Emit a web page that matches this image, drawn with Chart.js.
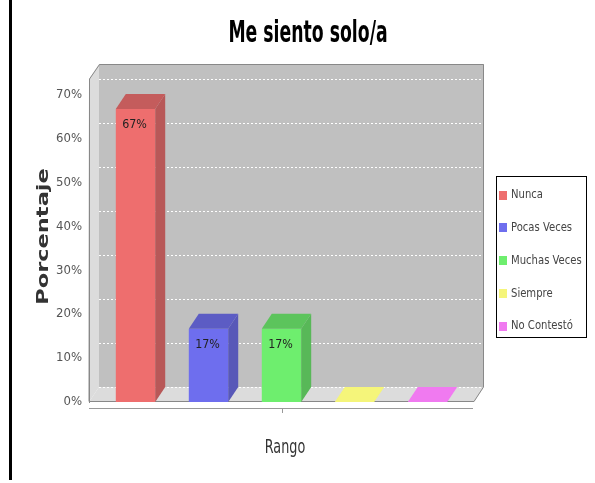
<!DOCTYPE html>
<html><head><meta charset="utf-8">
<script src="https://cdn.jsdelivr.net/npm/chart.js@4.4.1/dist/chart.umd.min.js"></script>
<style>html,body{margin:0;padding:0;background:#fff;}#wrap{width:595px;height:483px;position:relative}</style>
</head><body><div id="wrap"><canvas id="c" width="595" height="483"></canvas></div>
<script>
const chartTitle = 'Me siento solo/a';
const categories = ['Nunca', 'Pocas Veces', 'Muchas Veces', 'Siempre', 'No Contestó'];
const values = [66.67, 16.67, 16.67, 0, 0];
const valueLabels = ['67%', '17%', '17%', '', ''];
const yTickValues = [0, 10, 20, 30, 40, 50, 60, 70];
const xTitle = 'Rango';
const yTitle = 'Porcentaje';

const frontColors = ['#ee6e6e', '#6e6eee', '#6eee6e', '#f5f57a', '#f07af0'];
const sideColors = ['#b85858', '#5858b8', '#58b858', '#c0c05e', '#b85eb8'];
const topColors = ['#c45c5c', '#5c5cc4', '#5cc45c', '#f5f57a', '#f07af0'];
const DX = 10, DY = 15;
const COND = "'DejaVu Sans Condensed','DejaVu Sans',sans-serif";

function poly(ctx, pts, fill, stroke) {
  ctx.beginPath();
  ctx.moveTo(pts[0][0], pts[0][1]);
  for (let i = 1; i < pts.length; i++) ctx.lineTo(pts[i][0], pts[i][1]);
  ctx.closePath();
  if (fill) { ctx.fillStyle = fill; ctx.fill(); }
  if (stroke) { ctx.strokeStyle = stroke; ctx.stroke(); }
}

function squeezedText(ctx, text, x, y, font, sx, color, align, baseline, rot) {
  ctx.save();
  ctx.translate(x, y);
  if (rot) ctx.rotate(rot);
  ctx.scale(sx, 1);
  ctx.font = font;
  ctx.fillStyle = color;
  ctx.textAlign = align;
  ctx.textBaseline = baseline;
  ctx.fillText(text, 0, 0);
  ctx.restore();
}

const threeD = {
  id: 'threeD',
  beforeDraw(chart) {
    const {ctx, chartArea: a, scales: {y}} = chart;
    const L = a.left, R = a.right, T = a.top, B = a.bottom;
    ctx.save();
    ctx.fillStyle = '#c0c0c0';
    ctx.fillRect(L + DX, T - DY, R - L, B - T);
    poly(ctx, [[L, T], [L + DX, T - DY], [L + DX, B - DY], [L, B]], '#dcdcdc');
    poly(ctx, [[L, B], [L + DX, B - DY], [R + DX, B - DY], [R, B]], '#dcdcdc');
    ctx.strokeStyle = '#ffffff';
    ctx.lineWidth = 1;
    ctx.setLineDash([2, 2]);
    yTickValues.forEach(v => {
      const py = Math.round(y.getPixelForValue(v) - DY) + 0.5;
      ctx.beginPath(); ctx.moveTo(L + DX, py); ctx.lineTo(R + DX, py); ctx.stroke();
    });
    ctx.setLineDash([]);
    ctx.lineWidth = 1;
    poly(ctx, [[L + 0.5, T], [L + DX + 0.5, T - DY + 0.5], [R + DX - 0.5, T - DY + 0.5], [R + DX - 0.5, B - DY], [R, B - 0.5], [L, B - 0.5]], null, '#888888');
    ctx.restore();
  },
  afterDatasetsDraw(chart) {
    const ctx = chart.ctx;
    ctx.save();
    chart.data.datasets.forEach((ds, i) => {
      const meta = chart.getDatasetMeta(i);
      meta.data.forEach((bar) => {
        const {x, y, base, width} = bar.getProps(['x', 'y', 'base', 'width'], true);
        const l = x - width / 2, r = x + width / 2;
        if (base - y > 0.5) {
          poly(ctx, [[r, y], [r + DX, y - DY], [r + DX, base - DY], [r, base]], sideColors[i]);
          poly(ctx, [[l, y], [l + DX, y - DY], [r + DX, y - DY], [r, y]], topColors[i]);
        } else {
          poly(ctx, [[l, base], [l + DX, base - DY], [r + DX, base - DY], [r, base]], frontColors[i]);
        }
        if (valueLabels[i]) {
          squeezedText(ctx, valueLabels[i], x - 1, y + 16, '13px ' + COND, 0.95, '#222', 'center', 'middle');
        }
      });
    });
    ctx.restore();
  },
  afterDraw(chart) {
    const {ctx, chartArea: a, scales: {x}} = chart;
    ctx.save();
    // left black line
    ctx.fillStyle = '#000';
    ctx.fillRect(9, 0, 3, 480);
    // chart title
    squeezedText(ctx, chartTitle, 308, 42, 'bold 30px ' + COND, 0.64, '#000', 'center', 'alphabetic');
    // category axis line
    ctx.strokeStyle = '#999';
    ctx.lineWidth = 1;
    ctx.beginPath(); ctx.moveTo(a.left, 408.5); ctx.lineTo(a.right - 1, 408.5); ctx.stroke();
    const cx = Math.round(x.getPixelForValue(0)) + 0.5;
    ctx.beginPath(); ctx.moveTo(cx, 408); ctx.lineTo(cx, 413); ctx.stroke();
    // axis titles
    squeezedText(ctx, xTitle, 285, 453, '20px ' + COND, 0.71, '#333', 'center', 'alphabetic');
    squeezedText(ctx, yTitle, 44, (a.top + a.bottom) / 2 - 4, 'bold 15px "DejaVu Sans", sans-serif', 1.5, '#333', 'center', 'middle', -Math.PI / 2);
    // legend
    const lx = 496, ly = 176, lw = 90, lh = 161;
    ctx.fillStyle = '#fff';
    ctx.fillRect(lx, ly, lw, lh);
    ctx.strokeStyle = '#000';
    ctx.strokeRect(lx + 0.5, ly + 0.5, lw, lh);
    categories.forEach((c, i) => {
      const iy = 195 + i * 32.75;
      ctx.fillStyle = frontColors[i];
      ctx.fillRect(499, Math.round(iy - 4.5), 8, 9);
      squeezedText(ctx, c, 511, iy, '13px ' + COND, 0.86, '#444', 'left', 'middle');
    });
    ctx.restore();
  }
};

new Chart(document.getElementById('c'), {
  type: 'bar',
  data: {
    labels: [''],
    datasets: categories.map((c, i) => ({
      label: c,
      data: [values[i]],
      backgroundColor: frontColors[i],
      borderWidth: 0,
      categoryPercentage: 0.948,
      barPercentage: 0.54
    }))
  },
  options: {
    responsive: false,
    animation: false,
    devicePixelRatio: 1,
    layout: {padding: {left: 14, right: 121, top: 79, bottom: 0}},
    plugins: {
      legend: {display: false},
      tooltip: {enabled: false},
      title: {display: false, text: chartTitle}
    },
    scales: {
      x: {
        grid: {display: false},
        border: {display: false},
        ticks: {display: false},
        title: {display: false, text: xTitle},
        afterFit(s) { s.height = 81; }
      },
      y: {
        min: 0, max: 73.5,
        afterBuildTicks(s) { s.ticks = yTickValues.map(v => ({value: v})); },
        ticks: {callback: v => v + '%', color: '#555', font: {family: COND, size: 13}, padding: 7},
        grid: {display: false, drawTicks: false},
        border: {display: true, color: '#888'},
        title: {display: false, text: yTitle},
        afterFit(s) { s.width = 75; }
      }
    }
  },
  plugins: [threeD]
});
</script>
</body></html>
